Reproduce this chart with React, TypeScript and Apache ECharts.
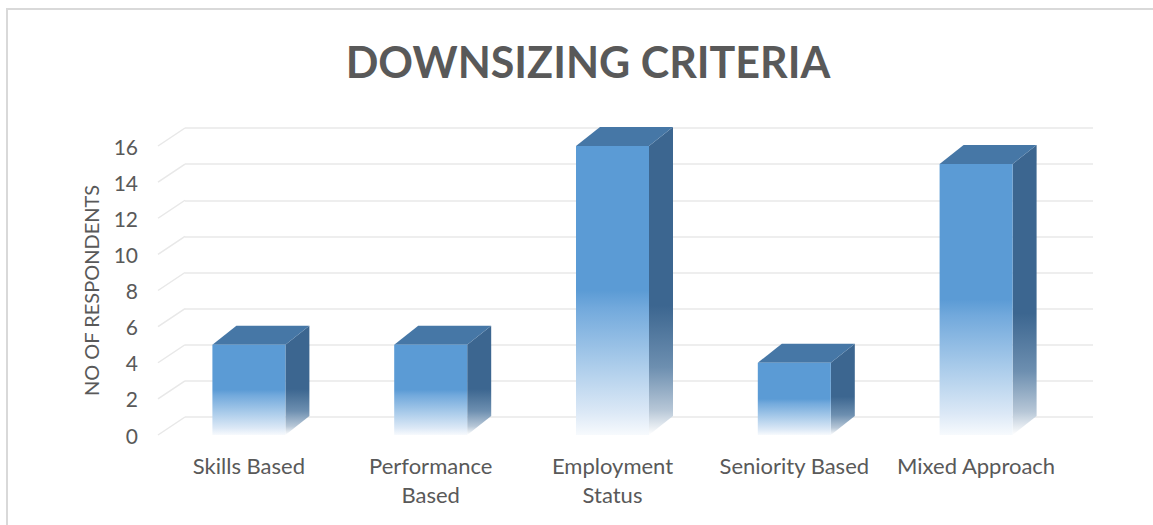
import React, { useEffect, useRef } from "react";
import * as echarts from "echarts";

const categories = ["Skills Based", "Performance\nBased", "Employment\nStatus", "Seniority Based", "Mixed Approach"];
const respondents = [5, 5, 16, 4, 15];
const yTickValues = [0, 2, 4, 6, 8, 10, 12, 14, 16];
const chartTitle = "DOWNSIZING CRITERIA";
const yAxisTitle = "NO OF RESPONDENTS";

const TEXT = "#595959";
const GRID = "#e8e8e8";
const FONT = "Lato, 'Open Sans', sans-serif";

export default function App() {
  const ref = useRef<HTMLDivElement>(null);
  useEffect(() => {
    if (!ref.current) return;
    const chart = echarts.init(ref.current, undefined, { renderer: "svg" });
    const depthX = 27;
    const depthY = 18;
    const frontGrad = () =>
      new echarts.graphic.LinearGradient(0, 0, 0, 1, [
        { offset: 0, color: "#5b9bd5" },
        { offset: 0.5, color: "#5b9bd5" },
        { offset: 0.56, color: "#72a9dc" },
        { offset: 0.75, color: "#a9cbea" },
        { offset: 0.92, color: "#dbe8f6" },
        { offset: 1, color: "#f7fafd" },
      ]);
    const sideGrad = () =>
      new echarts.graphic.LinearGradient(0, 0, 0, 1, [
        { offset: 0, color: "#3c6690" },
        { offset: 0.58, color: "#3c6690" },
        { offset: 0.78, color: "#6d8fb0" },
        { offset: 0.92, color: "#b7c7d7" },
        { offset: 1, color: "#ffffff" },
      ]);
    const option: any = {
      animation: false,
      backgroundColor: "#ffffff",
      title: {
        text: chartTitle,
        left: 583,
        top: 35,
        textAlign: "center",
        textStyle: { fontFamily: FONT, fontSize: 43, fontWeight: "bold", color: TEXT },
      },
      graphic: [
        { type: "line", shape: { x1: 6, y1: 9, x2: 1153, y2: 9 }, style: { stroke: "#d9d9d9", lineWidth: 2 } },
        { type: "line", shape: { x1: 7, y1: 8, x2: 7, y2: 525 }, style: { stroke: "#d9d9d9", lineWidth: 2 } },
      ],
      grid: [
        { left: 158, top: 146, width: 909, height: 289 },
        { left: 158 + depthX, top: 146 - depthY, width: 908, height: 289 },
      ],
      xAxis: [
        {
          type: "category",
          gridIndex: 0,
          data: categories,
          axisLine: { show: false },
          axisTick: { show: false },
          splitLine: { show: false },
          axisLabel: { color: TEXT, fontFamily: FONT, fontSize: 22, lineHeight: 29, margin: 16, interval: 0 },
        },
        {
          type: "category",
          gridIndex: 1,
          data: categories,
          show: false,
        },
      ],
      yAxis: [
        {
          type: "value",
          gridIndex: 0,
          min: 0,
          max: 16,
          interval: 2,
          name: yAxisTitle,
          nameLocation: "middle",
          nameGap: 57,
          nameTextStyle: { color: TEXT, fontFamily: FONT, fontSize: 20 },
          axisLine: { show: false },
          axisTick: { show: false },
          splitLine: { show: false },
          axisLabel: { color: TEXT, fontFamily: FONT, fontSize: 21, margin: 20 },
        },
        {
          type: "value",
          gridIndex: 1,
          min: 0,
          max: 16,
          interval: 2,
          axisLine: { show: false },
          axisTick: { show: false },
          axisLabel: { show: false },
          splitLine: { show: true, lineStyle: { color: GRID, width: 1.5 } },
        },
      ],
      series: [
        {
          type: "custom",
          xAxisIndex: 0,
          yAxisIndex: 0,
          silent: true,
          z: 1,
          data: yTickValues.map((v) => [0, v]),
          encode: { x: 0, y: 1 },
          renderItem: (params: any, api: any) => {
            const y = api.coord([0, api.value(1)])[1];
            const x = params.coordSys.x;
            return {
              type: "line",
              shape: { x1: x, y1: y, x2: x + depthX, y2: y - depthY },
              style: { stroke: GRID, lineWidth: 1.5 },
            };
          },
        },
        {
          type: "custom",
          name: yAxisTitle,
          xAxisIndex: 0,
          yAxisIndex: 0,
          z: 3,
          data: respondents.map((v, i) => [i, v]),
          encode: { x: 0, y: 1 },
          renderItem: (params: any, api: any) => {
            const i = api.value(0);
            const v = api.value(1);
            const top = api.coord([i, v]);
            const base = api.coord([i, 0]);
            const hw = 36.5;
            const dx = 24;
            const dy = 19;
            const cx = top[0];
            return {
              type: "group",
              children: [
                {
                  type: "polygon",
                  shape: {
                    points: [
                      [cx + hw, top[1]],
                      [cx + hw + dx, top[1] - dy],
                      [cx + hw + dx, base[1] - dy],
                      [cx + hw, base[1]],
                    ],
                  },
                  style: { fill: sideGrad() },
                },
                {
                  type: "polygon",
                  shape: {
                    points: [
                      [cx - hw, top[1]],
                      [cx - hw + dx, top[1] - dy],
                      [cx + hw + dx, top[1] - dy],
                      [cx + hw, top[1]],
                    ],
                  },
                  style: { fill: "#4677a6" },
                },
                {
                  type: "rect",
                  shape: { x: cx - hw, y: top[1], width: 2 * hw, height: base[1] - top[1] },
                  style: { fill: frontGrad() },
                },
              ],
            };
          },
        },
      ],
    };
    chart.setOption(option);
    return () => chart.dispose();
  }, []);
  return (
    <div
      ref={ref}
      style={{ position: "fixed", left: 0, top: 0, width: 1153, height: 525, background: "#fff" }}
    />
  );
}
